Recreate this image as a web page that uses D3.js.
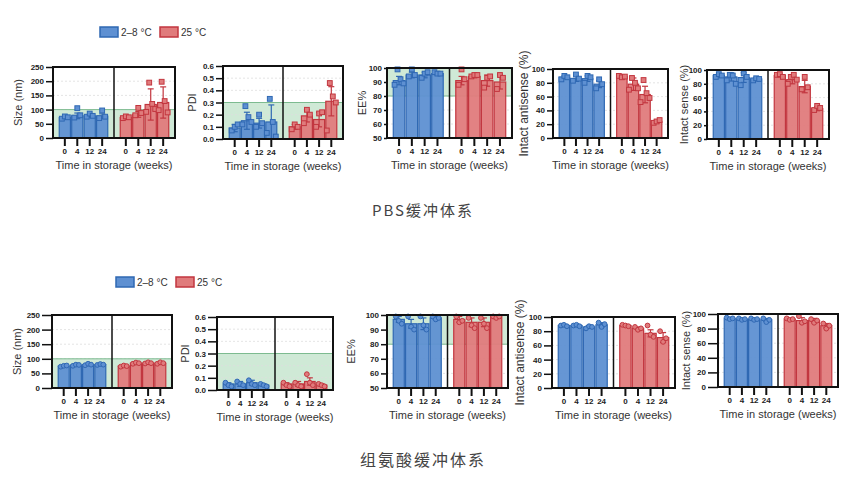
<!DOCTYPE html>
<html>
<head>
<meta charset="utf-8">
<script src="https://cdn.jsdelivr.net/npm/d3@7"></script>
<style>
  body { margin: 0; background: #fff; }
  svg { display: block; }
  .tick text { font-family: "Liberation Sans", Arial, sans-serif; font-weight: bold; font-size: 8px; fill: #222; }
  .ylab, .xlab { font-family: "Liberation Sans", Arial, sans-serif; fill: #333; }
  .caption { font-family: "Noto Sans CJK SC", sans-serif; fill: #444; }
  .legend { font-family: "Liberation Sans", Arial, sans-serif; font-size: 10px; fill: #333; }
</style>
</head>
<body>
<svg id="chart" width="850" height="484"></svg>
<script>
const weeks = ['0', '4', '12', '24'];
const temps = ['2–8 °C', '25 °C'];

// PBS buffer: [2-8 °C, 25 °C] x weeks
const pbsSizeMean = [[72, 78, 78, 77], [72, 83, 118, 125]];
const pbsSizeErr = [[3, 10, 5, 8], [3, 10, 55, 55]];
const pbsSizePts = [
  [[68, 76, 73], [72, 105, 80], [75, 86, 78], [70, 97, 75]],
  [[70, 76, 73], [80, 106, 88], [92, 195, 120, 102], [98, 198, 130, 90]]
];
const pbsPdiMean = [[0.09, 0.15, 0.13, 0.14], [0.10, 0.19, 0.16, 0.31]];
const pbsPdiErr = [[0.03, 0.07, 0.04, 0.14], [0.02, 0.05, 0.06, 0.12]];
const pbsPdiPts = [
  [[0.07, 0.10, 0.12], [0.12, 0.27, 0.18, 0.14], [0.10, 0.20, 0.13], [0.05, 0.33, 0.14, 0.02]],
  [[0.08, 0.12, 0.10], [0.13, 0.24, 0.20], [0.10, 0.21, 0.22], [0.07, 0.46, 0.35, 0.30]]
];
const pbsEeMean = [[91, 95, 95, 96], [91, 94, 91, 90]];
const pbsEeErr = [[3, 2, 2, 1], [3, 1, 4, 5]];
const pbsEePts = [
  [[88, 99, 92, 89], [94, 99, 95], [93, 96, 97], [97, 96, 96]],
  [[88, 99, 92], [94, 95, 95], [86, 93, 94], [85, 95, 93]]
];
const pbsAntiMean = [[88, 86, 86, 78], [89, 78, 63, 24]];
const pbsAntiErr = [[2, 4, 4, 5], [2, 9, 12, 2]];
const pbsAntiPts = [
  [[85, 90, 88], [83, 92, 86], [80, 90, 88], [72, 85, 78]],
  [[90, 88, 89], [70, 87, 80, 72], [52, 84, 65, 58], [22, 24, 26]]
];
const pbsSenseMean = [[92, 90, 89, 87], [92, 86, 76, 44]];
const pbsSenseErr = [[2, 6, 7, 2], [2, 6, 9, 3]];
const pbsSensePts = [
  [[90, 94, 92], [85, 93, 92, 80], [78, 95, 90], [85, 88, 87]],
  [[93, 94, 90], [80, 90, 93, 86], [72, 90, 75], [42, 48, 45]]
];

// Histidine buffer
const hisSizeMean = [[75, 78, 80, 80], [75, 85, 85, 85]];
const hisSizeErr = [[2, 2, 3, 2], [2, 2, 3, 3]];
const hisSizePts = [
  [[73, 76, 77], [76, 80, 79], [78, 83, 80], [79, 82, 80]],
  [[73, 77, 75], [83, 87, 85], [84, 88, 85], [83, 88, 85]]
];
const hisPdiMean = [[0.05, 0.05, 0.06, 0.04], [0.05, 0.05, 0.07, 0.04]];
const hisPdiErr = [[0.01, 0.02, 0.02, 0.01], [0.01, 0.02, 0.03, 0.01]];
const hisPdiPts = [
  [[0.06, 0.04, 0.03], [0.07, 0.05, 0.04], [0.08, 0.05, 0.04], [0.05, 0.04, 0.03]],
  [[0.06, 0.04, 0.03], [0.06, 0.04, 0.03], [0.13, 0.06, 0.04], [0.05, 0.04, 0.03]]
];
const hisEeMean = [[97, 94, 94, 98], [97, 95, 95, 99]];
const hisEeErr = [[2, 3, 4, 1], [2, 3, 3, 1]];
const hisEePts = [
  [[99, 96, 94], [99, 92, 90], [99, 93, 90], [99, 97, 98]],
  [[99, 95, 96], [98, 93, 91], [98, 94, 91], [99, 98, 99]]
];
const hisAntiMean = [[88, 88, 86, 89], [88, 84, 77, 71]];
const hisAntiErr = [[1, 1, 2, 3], [1, 2, 5, 7]];
const hisAntiPts = [
  [[88, 89, 87], [88, 89, 87], [84, 87, 86], [92, 86, 90]],
  [[89, 88, 87], [86, 82, 84], [88, 75, 72], [80, 65, 70]]
];
const hisSenseMean = [[94, 93, 93, 92], [93, 91, 91, 84]];
const hisSenseErr = [[1, 1, 1, 2], [1, 4, 3, 3]];
const hisSensePts = [
  [[95, 93, 94], [94, 92, 93], [94, 92, 93], [94, 89, 92]],
  [[94, 92, 93], [97, 88, 90], [93, 88, 91], [87, 80, 84]]
];

const sizeTicks = [0, 50, 100, 150, 200, 250];
const pdiTicks = [0, 0.1, 0.2, 0.3, 0.4, 0.5, 0.6];
const eeTicks = [50, 60, 70, 80, 90, 100];
const pctTicks = [0, 20, 40, 60, 80, 100];

const fills = ['#5e90d2', '#e07b7c'];
const strokes = ['#2f68b3', '#c2363f'];

const svg = d3.select('#chart');

function drawPanel(p) {
  const g = svg.append('g');
  const y = d3.scaleLinear().domain(p.domain).range([p.y1, p.y0]);
  const halves = d3.scaleBand().domain([0, 1]).range([p.x0, p.x1]);

  // green acceptable range
  if (p.band) {
    g.append('rect')
      .attr('x', p.x0).attr('width', p.x1 - p.x0)
      .attr('y', y(p.band[1])).attr('height', y(p.band[0]) - y(p.band[1]))
      .attr('fill', '#cfe9d6');
  }

  // faint grid
  g.selectAll('.grid').data(p.ticks.slice(1, -1)).enter().append('line')
    .attr('x1', p.x0).attr('x2', p.x1)
    .attr('y1', d => y(d)).attr('y2', d => y(d))
    .attr('stroke', '#ddd').attr('stroke-dasharray', '2,2').attr('stroke-width', 0.8);

  if (p.band) {
    const edge = p.band[0] === p.domain[0] ? p.band[1] : p.band[0];
    g.append('line')
      .attr('x1', p.x0).attr('x2', p.x1)
      .attr('y1', y(edge)).attr('y2', y(edge))
      .attr('stroke', '#7dbb90').attr('stroke-width', 1);
  }

  [0, 1].forEach(t => {
    const hx = halves(t);
    const x = d3.scaleBand().domain(weeks)
      .range([hx + 5, hx + halves.bandwidth() - 5]).padding(0.1);
    const hg = g.append('g');

    hg.selectAll('rect.bar').data(weeks).enter().append('rect')
      .attr('class', 'bar')
      .attr('x', d => x(d)).attr('width', x.bandwidth())
      .attr('y', (d, i) => y(p.mean[t][i]))
      .attr('height', (d, i) => y(p.domain[0]) - y(p.mean[t][i]))
      .attr('fill', fills[t]).attr('fill-opacity', 0.95)
      .attr('stroke', strokes[t]).attr('stroke-width', 1.2);

    // error bars + replicate points
    weeks.forEach((w, i) => {
      const cx = x(w) + x.bandwidth() / 2;
      const lo = Math.max(p.mean[t][i] - p.err[t][i], p.domain[0]);
      const hi = Math.min(p.mean[t][i] + p.err[t][i], p.domain[1]);
      hg.append('line').attr('x1', cx).attr('x2', cx)
        .attr('y1', y(lo)).attr('y2', y(hi))
        .attr('stroke', strokes[t]).attr('stroke-width', 1.2);
      [lo, hi].forEach(v => {
        hg.append('line').attr('x1', cx - 3).attr('x2', cx + 3)
          .attr('y1', y(v)).attr('y2', y(v))
          .attr('stroke', strokes[t]).attr('stroke-width', 1.2);
      });
      const pts = p.pts[t][i];
      pts.forEach((v, k) => {
        const px = cx + (k - (pts.length - 1) / 2) * 3;
        if (p.square) {
          hg.append('rect')
            .attr('x', px - 2.4).attr('y', y(v) - 2.4)
            .attr('width', 4.8).attr('height', 4.8)
            .attr('fill', fills[t]).attr('stroke', strokes[t]).attr('stroke-width', 1);
        } else {
          hg.append('circle')
            .attr('cx', px).attr('cy', y(v)).attr('r', 2.4)
            .attr('fill', fills[t]).attr('stroke', strokes[t]).attr('stroke-width', 1);
        }
      });
    });

    // week ticks hanging under the axis
    const ax = g.append('g')
      .attr('transform', `translate(0,${p.y1})`)
      .call(d3.axisBottom(x).tickSize(8).tickPadding(2));
    ax.select('.domain').remove();
    ax.selectAll('.tick line').attr('stroke', '#111').attr('stroke-width', 2);
  });

  // frame and divider
  g.append('rect')
    .attr('x', p.x0).attr('y', p.y0)
    .attr('width', p.x1 - p.x0).attr('height', p.y1 - p.y0)
    .attr('fill', 'none').attr('stroke', '#111').attr('stroke-width', 2);
  const mid = halves(1);
  g.append('line').attr('x1', mid).attr('x2', mid)
    .attr('y1', p.y0).attr('y2', p.y1)
    .attr('stroke', '#111').attr('stroke-width', 1.5);

  // y axis
  const yAx = g.append('g')
    .attr('transform', `translate(${p.x0},0)`)
    .call(d3.axisLeft(y).tickValues(p.ticks).tickSize(p.tick).tickPadding(2)
      .tickFormat(p.fmt || d3.format('d')));
  yAx.select('.domain').remove();
  yAx.selectAll('.tick line').attr('stroke', '#111').attr('stroke-width', 1.5);

  g.append('text').attr('class', 'ylab')
    .attr('transform', `translate(${p.x0 - p.labOff},${(p.y0 + p.y1) / 2}) rotate(-90)`)
    .attr('text-anchor', 'middle')
    .attr('font-size', p.labSize || 11)
    .attr('fill', p.labColor || '#333')
    .text(p.label);

  g.append('text').attr('class', 'xlab')
    .attr('x', (p.x0 + p.x1) / 2).attr('y', p.y1 + 31)
    .attr('text-anchor', 'middle').attr('font-size', 11)
    .text('Time in storage (weeks)');
}

function legend(x, y) {
  const g = svg.append('g').attr('transform', `translate(${x},${y})`);
  g.append('rect').attr('x', 0).attr('y', 0).attr('width', 18).attr('height', 10)
    .attr('fill', fills[0]).attr('stroke', strokes[0]).attr('stroke-width', 1.5);
  g.append('text').attr('class', 'legend').attr('x', 21).attr('y', 9).text(temps[0]);
  g.append('rect').attr('x', 60).attr('y', 0).attr('width', 18).attr('height', 10)
    .attr('fill', fills[1]).attr('stroke', strokes[1]).attr('stroke-width', 1.5);
  g.append('text').attr('class', 'legend').attr('x', 81).attr('y', 9).text(temps[1]);
}

const pdiFmt = d3.format('.1f');

const rows = [
  {
    panels: [
      { x0: 53, x1: 175, y0: 67, y1: 138, domain: [0, 250], ticks: sizeTicks, band: [0, 100], tick: 7,
        mean: pbsSizeMean, err: pbsSizeErr, pts: pbsSizePts, label: 'Size (nm)', labOff: 31 },
      { x0: 223, x1: 343, y0: 66, y1: 139, domain: [0, 0.6], ticks: pdiTicks, band: [0, 0.3], fmt: pdiFmt, tick: 7,
        mean: pbsPdiMean, err: pbsPdiErr, pts: pbsPdiPts, label: 'PDI', labOff: 27 },
      { x0: 387, x1: 512, y0: 68, y1: 138, domain: [50, 100], ticks: eeTicks, band: [80, 100], tick: 3,
        mean: pbsEeMean, err: pbsEeErr, pts: pbsEePts, label: 'EE%', labOff: 21 },
      { x0: 553, x1: 668, y0: 69, y1: 138, domain: [0, 100], ticks: pctTicks, tick: 6,
        mean: pbsAntiMean, err: pbsAntiErr, pts: pbsAntiPts, label: 'Intact antisense (%)', labOff: 25,
        labSize: 12, labColor: '#666' },
      { x0: 707, x1: 829, y0: 70, y1: 139, domain: [0, 100], ticks: pctTicks, tick: 3,
        mean: pbsSenseMean, err: pbsSenseErr, pts: pbsSensePts, label: 'Intact sense (%)', labOff: 19,
        labSize: 11, labColor: '#666' }
    ],
    square: true, legend: [100, 27], caption: 'PBS缓冲体系', capY: 216, capSize: 15
  },
  {
    panels: [
      { x0: 52, x1: 172, y0: 315, y1: 388, domain: [0, 250], ticks: sizeTicks, band: [0, 100], tick: 10,
        mean: hisSizeMean, err: hisSizeErr, pts: hisSizePts, label: 'Size (nm)', labOff: 31 },
      { x0: 217, x1: 333, y0: 317, y1: 390, domain: [0, 0.6], ticks: pdiTicks, band: [0, 0.3], fmt: pdiFmt, tick: 9,
        mean: hisPdiMean, err: hisPdiErr, pts: hisPdiPts, label: 'PDI', labOff: 28 },
      { x0: 387, x1: 508, y0: 315, y1: 388, domain: [50, 100], ticks: eeTicks, band: [80, 100], tick: 6,
        mean: hisEeMean, err: hisEeErr, pts: hisEePts, label: 'EE%', labOff: 32 },
      { x0: 552, x1: 675, y0: 317, y1: 388, domain: [0, 100], ticks: pctTicks, tick: 8,
        mean: hisAntiMean, err: hisAntiErr, pts: hisAntiPts, label: 'Intact antisense (%)', labOff: 28,
        labSize: 12, labColor: '#666' },
      { x0: 718, x1: 838, y0: 314, y1: 387, domain: [0, 100], ticks: pctTicks, tick: 10,
        mean: hisSenseMean, err: hisSenseErr, pts: hisSensePts, label: 'Intact sense (%)', labOff: 28,
        labSize: 11, labColor: '#666' }
    ],
    square: false, legend: [116, 277], caption: '组氨酸缓冲体系', capY: 466, capSize: 16
  }
];

rows.forEach(r => {
  r.panels.forEach(p => { p.square = r.square; drawPanel(p); });
  legend(r.legend[0], r.legend[1]);
  svg.append('text').attr('class', 'caption')
    .attr('x', 423).attr('y', r.capY)
    .attr('text-anchor', 'middle')
    .attr('font-size', r.capSize)
    .attr('letter-spacing', 2)
    .text(r.caption);
});
</script>
</body>
</html>
